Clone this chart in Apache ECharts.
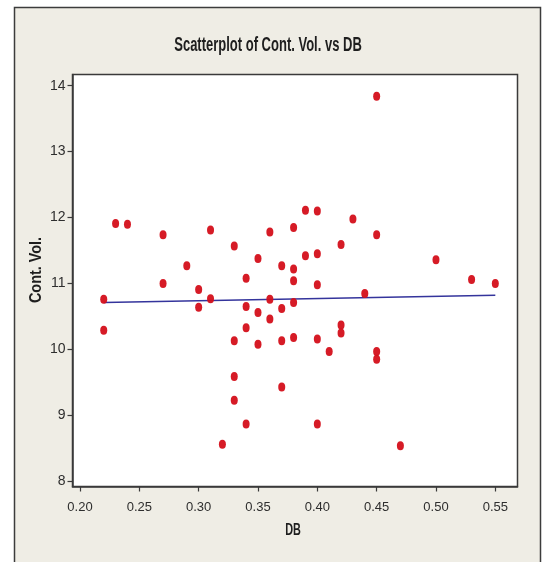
<!DOCTYPE html>
<html>
<head>
<meta charset="utf-8">
<script src="https://cdn.jsdelivr.net/npm/echarts@6/dist/echarts.min.js"></script>
<style>
  html, body { margin: 0; padding: 0; background: #ffffff; }
  #chart { width: 542px; height: 562px; }
</style>
</head>
<body>
<div id="chart"></div>
<script>
// DB values and container volumes for each observation
const dbValues = [
  0.22, 0.22, 0.23, 0.24, 0.27, 0.27, 0.29, 0.30, 0.30, 0.31,
  0.31, 0.32, 0.33, 0.33, 0.33, 0.33, 0.34, 0.34, 0.34, 0.34,
  0.35, 0.35, 0.35, 0.36, 0.36, 0.36, 0.37, 0.37, 0.37, 0.37,
  0.38, 0.38, 0.38, 0.38, 0.38, 0.39, 0.39, 0.40, 0.40, 0.40,
  0.40, 0.40, 0.41, 0.42, 0.42, 0.42, 0.43, 0.44, 0.45, 0.45,
  0.45, 0.45, 0.47, 0.50, 0.53, 0.55
];
const contVol = [
  10.76, 10.29, 11.91, 11.90, 11.74, 11.00, 11.27, 10.91, 10.64, 11.81,
  10.77, 8.56, 11.57, 10.13, 9.59, 9.23, 11.08, 10.65, 10.33, 8.87,
  11.38, 10.56, 10.08, 11.78, 10.76, 10.46, 11.27, 10.62, 10.13, 9.43,
  11.85, 11.22, 11.04, 10.71, 10.18, 12.11, 11.42, 12.10, 11.45, 10.98,
  10.16, 8.87, 9.97, 11.59, 10.37, 10.25, 11.98, 10.85, 13.84, 11.74,
  9.97, 9.85, 8.54, 11.36, 11.06, 11.00
];

// Fitted line end points (DB, Cont. Vol.)
const fitDb = [0.22, 0.55];
const fitVol = [10.71, 10.82];

// Axis tick values
const xTicks = [0.20, 0.25, 0.30, 0.35, 0.40, 0.45, 0.50, 0.55];
const yTicks = [8, 9, 10, 11, 12, 13, 14];

// Text
const titleText = 'Scatterplot of Cont. Vol. vs DB';
const xName = 'DB';
const yName = 'Cont. Vol.';

const points = dbValues.map((d, i) => [d, contVol[i]]);
const fitPoints = fitDb.map((d, i) => [d, fitVol[i]]);

const sans = '"Liberation Sans", Arial, sans-serif';
const axisColor = '#3a3a3a';
const textColor = '#1e1e1e';

const chart = echarts.init(document.getElementById('chart'), null, { renderer: 'canvas' });

chart.setOption({
  backgroundColor: '#ffffff',
  animation: false,
  graphic: [
    {
      type: 'rect',
      z: -10,
      shape: { x: 14.5, y: 7.5, width: 526, height: 570 },
      style: { fill: '#efede5', stroke: '#3c3c3c', lineWidth: 1.5 }
    },
    // Headings use regular bold glyphs squeezed horizontally for a condensed look
    {
      type: 'text',
      x: 268, y: 45,
      scaleX: 0.65,
      z: 10,
      style: {
        text: titleText,
        align: 'center', verticalAlign: 'middle',
        font: 'bold 20px ' + sans,
        fill: textColor
      }
    },
    {
      type: 'text',
      x: 293, y: 530,
      scaleX: 0.64,
      z: 10,
      style: {
        text: xName,
        align: 'center', verticalAlign: 'middle',
        font: 'bold 17px ' + sans,
        fill: textColor
      }
    },
    {
      type: 'text',
      x: 37, y: 270,
      rotation: Math.PI / 2,
      scaleX: 0.9,
      z: 10,
      style: {
        text: yName,
        align: 'center', verticalAlign: 'middle',
        font: 'bold 16px ' + sans,
        fill: textColor
      }
    }
  ],
  grid: {
    left: 72.5,
    right: 24.5,
    top: 74.5,
    bottom: 75.5,
    show: true,
    backgroundColor: '#ffffff',
    borderColor: axisColor,
    borderWidth: 1.5
  },
  xAxis: {
    type: 'value',
    min: 0.19368,
    max: 0.5687,
    axisLine: { show: true, lineStyle: { color: axisColor, width: 1.5 } },
    axisTick: {
      show: true,
      length: 5,
      customValues: xTicks,
      lineStyle: { color: axisColor, width: 1.2 }
    },
    axisLabel: {
      customValues: xTicks,
      margin: 14,
      fontFamily: sans,
      fontSize: 13,
      color: '#2e2e2e',
      formatter: v => v.toFixed(2)
    },
    splitLine: { show: false }
  },
  yAxis: {
    type: 'value',
    min: 7.921,
    max: 14.17,
    axisLine: { show: true, lineStyle: { color: axisColor, width: 1.5 } },
    axisTick: {
      show: true,
      length: 5,
      customValues: yTicks,
      lineStyle: { color: axisColor, width: 1.2 }
    },
    axisLabel: {
      customValues: yTicks,
      margin: 7,
      fontFamily: sans,
      fontSize: 14,
      color: '#2e2e2e'
    },
    splitLine: { show: false }
  },
  series: [
    {
      name: 'Fit',
      type: 'line',
      data: fitPoints,
      showSymbol: false,
      symbol: 'none',
      z: 2,
      lineStyle: { color: '#34349c', width: 1.5 },
      silent: true
    },
    {
      name: 'Cont. Vol.',
      type: 'scatter',
      data: points,
      symbol: 'circle',
      symbolSize: [7, 9],
      z: 3,
      itemStyle: { color: '#d40f1a', opacity: 0.95 }
    }
  ]
});
</script>
</body>
</html>
